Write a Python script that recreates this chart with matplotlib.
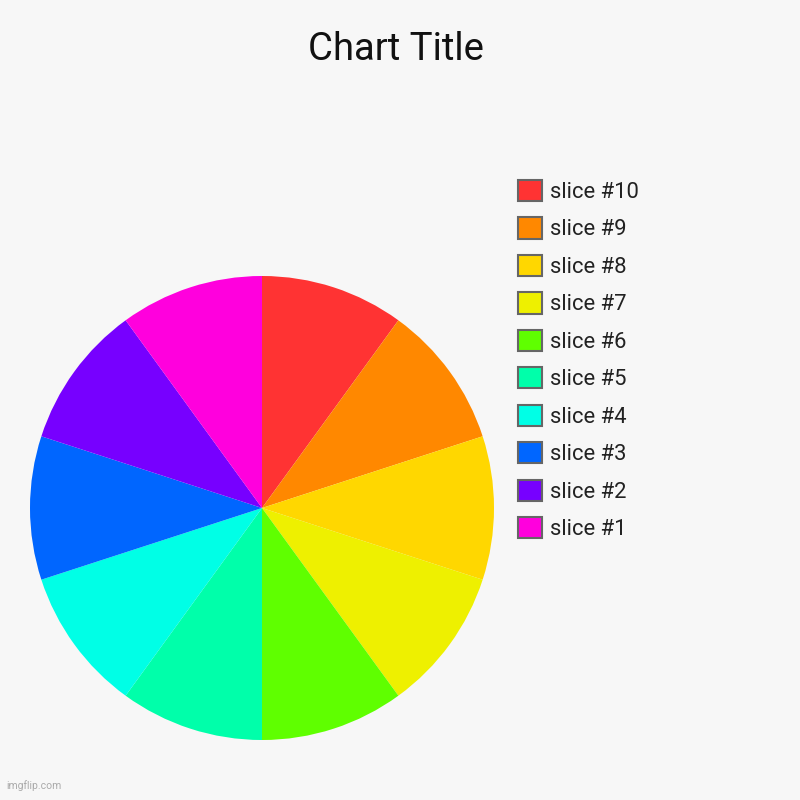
import matplotlib.pyplot as plt
from matplotlib.patches import Patch

plt.rcParams['font.family'] = ['Roboto', 'DejaVu Sans']

labels = ['slice #10', 'slice #9', 'slice #8', 'slice #7', 'slice #6',
          'slice #5', 'slice #4', 'slice #3', 'slice #2', 'slice #1']
values = [1, 1, 1, 1, 1, 1, 1, 1, 1, 1]
colors = ['#ff3333', '#ff8800', '#ffd700', '#eef000', '#5fff00',
          '#00ffaa', '#00ffe6', '#0066ff', '#7700ff', '#ff00dd']

bg = '#f7f7f7'
fig = plt.figure(figsize=(8, 8), dpi=100, facecolor=bg)

# pie axes: centre (262, 508) px, radius 232 px
ax = fig.add_axes([30 / 800, 60 / 800, 464 / 800, 464 / 800])
ax.set_facecolor(bg)
ax.pie(values, colors=colors, startangle=90, counterclock=False,
       radius=1, wedgeprops=dict(linewidth=0))
ax.set_xlim(-1, 1)
ax.set_ylim(-1, 1)
ax.set_aspect('equal')
ax.axis('off')

fig.text(396 / 800, 1 - 50 / 800, 'Chart Title', ha='center', va='center',
         fontsize=27.5, color='#111111')

handles = [Patch(facecolor=c, edgecolor='#666666', linewidth=1.5) for c in colors]
fig.legend(handles, labels, loc='upper left',
           bbox_to_anchor=(518 / 800, 1 - 180 / 800), frameon=False,
           fontsize=15.8, handlelength=1.1, handleheight=1.1,
           handletextpad=0.35, labelspacing=0.66, borderpad=0,
           borderaxespad=0, labelcolor='#222222')

fig.text(6 / 800, 9 / 800, 'imgflip.com', fontsize=7.5, color='#aaaaaa',
         ha='left', va='bottom')

fig.savefig('out.png', dpi=100, facecolor=bg)
